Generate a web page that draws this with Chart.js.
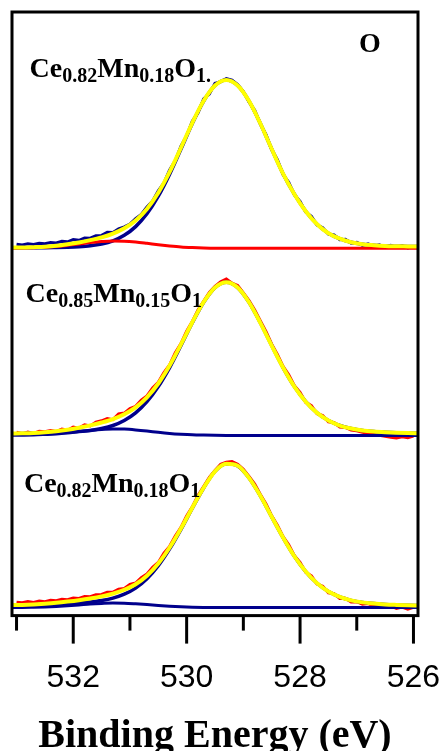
<!DOCTYPE html>
<html lang="en">
<head>
<meta charset="UTF-8">
<title>O 1s XPS</title>
<script src="https://cdn.jsdelivr.net/npm/chart.js"></script>
<style>
  html, body { margin: 0; padding: 0; background: #fff; }
  #caixa { width: 442px; height: 751px; position: relative; }
</style>
</head>
<body>
<div id="caixa"><canvas id="grafico_o1s"></canvas></div>
<script>

  // energia de ligação (eV) dos pontos medidos
  const energiaDados = [533.0,532.9,532.8,532.7,532.6,532.5,532.4,532.3,532.2,532.1,532.0,531.9,531.8,531.7,531.6,531.5,531.4,531.3,531.2,531.1,531.0,530.9,530.8,530.7,530.6,530.5,530.4,530.3,530.2,530.1,530.0,529.9,529.8,529.7,529.6,529.5,529.4,529.3,529.2,529.1,529.0,528.9,528.8,528.7,528.6,528.5,528.4,528.3,528.2,528.1,528.0,527.9,527.8,527.7,527.6,527.5,527.4,527.3,527.2,527.1,527.0,526.9,526.8,526.7,526.6,526.5,526.4,526.3,526.2,526.1,526.0];
  // energia dos pontos das curvas ajustadas
  const energiaAjuste = [533.1,532.9,532.7,532.5,532.3,532.1,531.9,531.7,531.5,531.3,531.1,530.9,530.7,530.5,530.3,530.1,529.9,529.7,529.5,529.3,529.1,528.9,528.7,528.5,528.3,528.1,527.9,527.7,527.5,527.3,527.1,526.9,526.7,526.5,526.3,526.1,525.9];

  const nomesAmostras = ['Ce0.82Mn0.18O1.', 'Ce0.85Mn0.15O1', 'Ce0.82Mn0.18O1'];
  const deslocamentos = [367, 180, 8]; // deslocamento vertical de cada espectro

  // espectro de cima
  const cimaDados = [4.0,3.2,4.5,3.8,5.0,4.6,5.8,5.2,6.9,6.4,8.6,7.9,10.2,10.0,12.6,12.8,15.9,15.6,19.4,21.3,24.2,29.6,33.8,41.2,47.1,57.3,65.4,78.1,87.6,101.9,112.3,127.0,135.4,149.2,154.1,164.8,166.2,169.5,167.9,163.4,156.6,146.1,137.9,124.0,113.6,98.4,88.5,73.6,65.9,53.2,46.9,36.1,31.8,23.1,20.6,14.1,13.4,8.6,8.9,5.1,5.9,2.8,4.4,2.1,3.5,1.2,2.9,0.9,2.6,0.4,1.8];
  const cimaPrincipal = [0.5,0.5,0.6,0.6,0.8,1.1,1.6,2.5,4.2,7.4,12.9,21.6,34.4,52.0,74.0,99.1,124.6,147.0,162.5,168.0,162.5,147.0,124.6,99.1,74.5,54.0,37.0,24.0,15.0,9.5,6.0,4.0,3.0,2.3,2.0,1.8,1.6];
  const cimaOmbro = [0.1,0.2,0.5,1.0,1.7,2.9,4.2,5.6,6.7,7.3,7.1,6.2,4.9,3.5,2.3,1.3,0.7,0.3,0.1,0.1,0,0,0,0,0,0,0,0,0,0,0,0,0,0,0,0,0];
  const cimaAjuste = [0.6,0.7,1.1,1.6,2.5,4.0,5.8,8.1,10.9,14.7,20.0,27.8,39.3,55.5,76.3,100.4,125.3,147.3,162.6,168.1,162.5,147.0,124.6,99.1,74.5,54.0,37.0,24.0,15.0,9.5,6.0,4.0,3.0,2.3,2.0,1.8,1.6];

  // espectro do meio
  const meioDados = [3.1,1.6,3.4,2.0,4.1,3.6,4.9,3.9,6.3,5.2,8.4,7.3,10.6,9.4,13.2,14.6,16.9,15.8,21.5,22.3,26.8,29.1,35.2,39.4,47.3,53.0,62.9,70.5,82.6,91.8,104.1,113.9,125.3,134.0,142.8,148.9,153.6,156.2,152.1,149.8,142.5,134.6,125.4,114.3,103.6,91.2,81.0,68.9,60.5,49.6,42.9,33.0,29.7,21.6,19.8,13.5,12.9,8.4,8.0,5.3,4.6,3.2,2.1,1.3,0.2,-0.8,-1.9,-2.6,-1.4,-2.2,-0.6];
  const meioPrincipal = [1.7,1.9,2.1,2.3,2.7,3.2,3.9,5.0,6.9,9.9,14.9,22.5,33.7,48.8,67.8,89.8,112.5,133.0,147.7,153.0,147.7,133.0,112.5,89.8,67.8,48.8,33.7,22.5,14.9,9.9,6.9,5.0,3.9,3.2,2.7,2.3,2.1];
  const meioOmbro = [0.1,0.2,0.4,0.9,1.5,2.5,3.8,5.0,6.0,6.5,6.3,5.5,4.4,3.1,2.0,1.2,0.6,0.3,0.1,0,0,0,0,0,0,0,0,0,0,0,0,0,0,0,0,0,0];
  const meioAjuste = [1.8,2.1,2.5,3.2,4.2,5.7,7.7,10.0,12.9,16.4,21.2,28.0,38.1,51.9,69.8,91.0,113.1,133.3,147.8,153.0,147.7,133.0,112.5,89.8,67.8,48.8,33.7,22.5,14.9,9.9,6.9,5.0,3.9,3.2,2.7,2.3,2.1];

  // espectro de baixo
  const baixoDados = [5.4,4.8,6.1,5.2,6.6,5.9,7.3,6.8,8.2,7.9,9.6,9.2,11.0,10.8,12.9,13.1,15.3,15.6,18.4,19.2,23.1,24.5,29.8,33.6,40.2,45.1,54.3,61.2,71.6,80.1,91.5,100.6,111.9,121.0,130.2,136.9,143.1,145.2,146.0,143.3,138.1,131.0,123.4,113.0,103.5,91.6,82.4,70.8,62.7,51.9,45.2,35.4,31.6,23.5,21.4,14.8,14.0,9.2,9.3,5.6,5.9,3.4,4.0,1.6,2.7,0.3,1.8,-0.9,0.6,-1.5,0.2];
  const baixoPrincipal = [2.4,2.6,2.9,3.3,3.7,4.2,4.8,5.6,7.1,9.5,13.4,19.5,28.8,41.8,58.6,78.2,99.4,119.5,136.1,143.6,141.6,129.6,111.7,90.7,70.0,51.3,36.0,24.3,16.1,10.7,7.2,5.2,4.0,3.2,2.7,2.3,2.0];
  const baixoOmbro = [0.1,0.1,0.3,0.6,1.1,1.8,2.6,3.5,4.1,4.5,4.4,3.8,3.0,2.2,1.4,0.8,0.4,0.2,0.1,0,0,0,0,0,0,0,0,0,0,0,0,0,0,0,0,0,0];
  const baixoAjuste = [2.5,2.7,3.2,3.9,4.8,6.0,7.4,9.1,11.2,14.0,17.8,23.3,31.8,44.0,60.0,79.0,99.8,119.7,136.2,143.6,141.6,129.6,111.7,90.7,70.0,51.3,36.0,24.3,16.1,10.7,7.2,5.2,4.0,3.2,2.7,2.3,2.0];

  const azul = '#00008c';
  const vermelho = '#ff0000';
  const amarelo = '#ffff00';

  function pontos(energias, valores, desloc) {
    return energias.map((e, i) => ({ x: e, y: valores[i] + desloc }));
  }

  function curva(energias, valores, desloc, cor, largura, suave) {
    return {
      data: pontos(energias, valores, desloc),
      borderColor: cor,
      borderWidth: largura,
      pointRadius: 0,
      tension: suave ? 0.4 : 0,
      cubicInterpolationMode: suave ? 'monotone' : 'default',
      fill: false
    };
  }

  // primeiro da lista fica por cima
  const conjuntos = [
    curva(energiaAjuste, cimaAjuste, deslocamentos[0], amarelo, 4, true),
    curva(energiaAjuste, meioAjuste, deslocamentos[1], amarelo, 4, true),
    curva(energiaAjuste, baixoAjuste, deslocamentos[2], amarelo, 4, true),
    curva(energiaAjuste, cimaOmbro, deslocamentos[0], vermelho, 3, true),
    curva(energiaAjuste, cimaPrincipal, deslocamentos[0], azul, 3.5, true),
    curva(energiaAjuste, meioOmbro, deslocamentos[1], azul, 3, true),
    curva(energiaAjuste, meioPrincipal, deslocamentos[1], azul, 3.5, true),
    curva(energiaAjuste, baixoOmbro, deslocamentos[2], azul, 3, true),
    curva(energiaAjuste, baixoPrincipal, deslocamentos[2], azul, 3.5, true),
    curva(energiaDados, cimaDados, deslocamentos[0], azul, 3, false),
    curva(energiaDados, meioDados, deslocamentos[1], vermelho, 3, false),
    curva(energiaDados, baixoDados, deslocamentos[2], vermelho, 3, false)
  ];

  // posição dos rótulos (energia, intensidade)
  const rotulos = [
    { e: 532.77, y: 538 },
    { e: 532.84, y: 313 },
    { e: 532.87, y: 123 }
  ];

  function escreverFormula(ctx, texto, x, y) {
    const pedacos = texto.match(/[A-Za-z]+|[0-9.]+/g);
    pedacos.forEach(p => {
      const sub = /^[0-9.]/.test(p);
      ctx.font = sub ? 'bold 20px "Liberation Serif"' : 'bold 28px "Liberation Serif"';
      ctx.fillText(p, x, sub ? y + 5 : y);
      x += ctx.measureText(p).width;
    });
  }

  const moldura = {
    id: 'moldura',
    afterDatasetsDraw(chart) {
      const { ctx, chartArea: a, scales } = chart;
      const sx = scales.x, sy = scales.y;
      ctx.save();
      ctx.strokeStyle = '#000';
      ctx.lineWidth = 3;
      ctx.strokeRect(a.left, a.top, a.right - a.left, a.bottom - a.top);
      sx.ticks.forEach(t => {
        const px = sx.getPixelForValue(t.value);
        const comp = Math.round(t.value) % 2 === 0 ? 28 : 15;
        ctx.beginPath();
        ctx.moveTo(px, a.bottom);
        ctx.lineTo(px, a.bottom + comp);
        ctx.stroke();
      });
      ctx.fillStyle = '#000';
      ctx.textBaseline = 'alphabetic';
      ctx.textAlign = 'left';
      rotulos.forEach((r, i) => {
        escreverFormula(ctx, nomesAmostras[i], sx.getPixelForValue(r.e), sy.getPixelForValue(r.y));
      });
      ctx.textAlign = 'center';
      ctx.font = 'bold 28px "Liberation Serif"';
      ctx.fillText('O', sx.getPixelForValue(526.77), sy.getPixelForValue(563));
      ctx.restore();
    }
  };

  const grafico = new Chart(document.getElementById('grafico_o1s'), {
    type: 'line',
    data: { datasets: conjuntos },
    options: {
      responsive: true,
      maintainAspectRatio: false,
      animation: false,
      layout: { padding: { left: 12, right: 24, top: 12, bottom: 0 } },
      plugins: { legend: { display: false }, tooltip: { enabled: false } },
      scales: {
        x: {
          type: 'linear',
          reverse: true,
          min: 525.92,
          max: 533.08,
          border: { display: false },
          // tickLength só reserva espaço; os traços são desenhados no plugin
          grid: { drawOnChartArea: false, tickLength: 43, tickColor: 'transparent' },
          ticks: {
            stepSize: 1,
            includeBounds: false,
            autoSkip: false,
            maxRotation: 0,
            padding: 0,
            color: '#000',
            font: { family: '"Liberation Sans", Arial', size: 32 },
            callback: v => (Math.round(v) % 2 === 0 ? String(Math.round(v)) : '')
          },
          title: {
            display: true,
            text: 'Binding Energy (eV)',
            color: '#000',
            font: { family: '"Liberation Serif", "Times New Roman"', size: 40, weight: 'bold', lineHeight: 1 },
            padding: { top: 20, bottom: -6 }
          }
        },
        y: {
          display: false,
          min: 0,
          max: 603
        }
      }
    },
    plugins: [moldura]
  });

</script>
</body>
</html>
